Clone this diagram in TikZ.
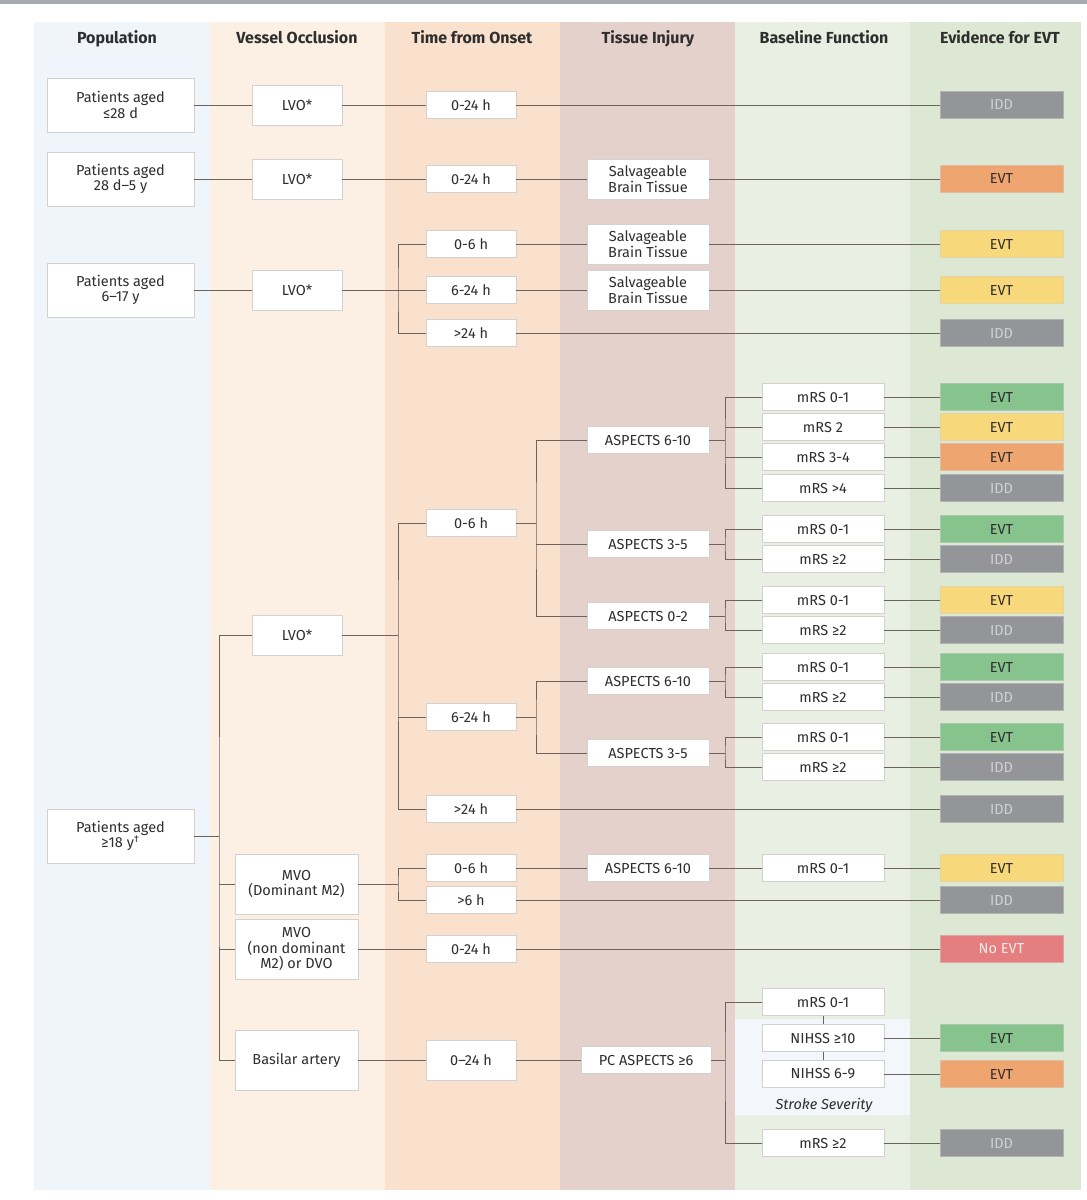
\documentclass[tikz,border=0pt]{standalone}
\usepackage{fontspec}
\setmainfont{Fira Sans}
\definecolor{topbar}{HTML}{A9AAB0}
\definecolor{cpop}{HTML}{EFF5FB}
\definecolor{cvo}{HTML}{FBF0E3}
\definecolor{ctime}{HTML}{F9E1CD}
\definecolor{ctis}{HTML}{E5D1CB}
\definecolor{cbase}{HTML}{E9F0E3}
\definecolor{cevi}{HTML}{DDE8D4}
\definecolor{csev}{HTML}{F3F7FB}
\definecolor{boxc}{HTML}{D3D0CD}
\definecolor{linec}{HTML}{6E625C}
\definecolor{txt}{HTML}{2E2E2E}
\definecolor{egreen}{HTML}{86C38D}
\definecolor{eyellow}{HTML}{F7D87A}
\definecolor{eorange}{HTML}{EFA570}
\definecolor{egray}{HTML}{939598}
\definecolor{ered}{HTML}{E57E7E}
\begin{document}
\begin{tikzpicture}[x=1pt,y=-1pt,
  bx/.style={draw=boxc, fill=white, line width=0.8pt, inner sep=0pt, align=center,
    font=\fontsize{14.5}{15.5}\selectfont, text=txt},
  popb/.style={bx, minimum width=147pt, minimum height=54pt},
  lvob/.style={bx, minimum width=90pt, minimum height=40pt},
  mvob/.style={bx, minimum width=123pt, minimum height=60pt},
  timeb/.style={bx, minimum width=90pt, minimum height=27pt},
  tisb/.style={bx, minimum width=122pt, minimum height=27pt},
  salb/.style={bx, minimum width=122pt, minimum height=40pt},
  basb/.style={bx, minimum width=122pt, minimum height=27pt},
  ev/.style={inner sep=0pt, minimum width=123pt, minimum height=27pt, draw=#1!85!black!60, line width=0.5pt, fill=#1,
    font=\fontsize{14.5}{15.5}\selectfont},
  evt/.style={ev=#1, text=txt},
  idd/.style={ev=egray, text=black!18},
  noevt/.style={ev=ered, text=red!8},
  hd/.style={font=\fontsize{16}{18}\selectfont\bfseries, text=txt, anchor=base},
  ln/.style={draw=linec, line width=1pt}]
\useasboundingbox (0,0) rectangle (1087,1200);
% backgrounds
\fill[topbar] (0,0) rectangle (1087,4);
\fill[cpop] (34,22) rectangle (210,1190);
\fill[cvo] (210,22) rectangle (385,1190);
\fill[ctime] (385,22) rectangle (560,1190);
\fill[ctis] (560,22) rectangle (735,1190);
\fill[cbase] (735,22) rectangle (910,1190);
\fill[cevi] (910,22) rectangle (1081,1190);
\fill[csev] (735,1019) rectangle (910,1115);
% headers
\node[hd] (h1) at (117,43) {Population};
\node[hd] (h2) at (297,43) {Vessel Occlusion};
\node[hd] (h3) at (472,43) {Time from Onset};
\node[hd] (h4) at (648,43) {Tissue Injury};
\node[hd] (h5) at (824,43) {Baseline Function};
\node[hd] (h6) at (1000,43) {Evidence for EVT};
% population
\node[popb] (p1) at (120.5,105) {Patients aged\\≤28 d};
\node[popb] (p2) at (120.5,179) {Patients aged\\28 d–5 y};
\node[popb] (p3) at (120.5,290) {Patients aged\\6–17 y};
\node[popb] (p4) at (120.5,836) {Patients aged\\≥18 y\textsuperscript{†}};
% vessel
\node[lvob] (l1) at (297,105) {LVO*};
\node[lvob] (l2) at (297,179) {LVO*};
\node[lvob] (l3) at (297,290) {LVO*};
\node[lvob] (l4) at (297,635) {LVO*};
\node[mvob] (m1) at (296.5,884) {MVO\\(Dominant M2)};
\node[mvob] (m2) at (296.5,949) {MVO\\(non dominant\\M2) or DVO};
\node[mvob] (ba) at (296.5,1060) {Basilar artery};
% time
\node[timeb] (t1) at (471,105) {0-24 h};
\node[timeb] (t2) at (471,179) {0-24 h};
\node[timeb] (t3) at (471,244) {0-6 h};
\node[timeb] (t4) at (471,290) {6-24 h};
\node[timeb] (t5) at (471,333) {>24 h};
\node[timeb] (t6) at (471,523) {0-6 h};
\node[timeb] (t7) at (471,717) {6-24 h};
\node[timeb] (t8) at (471,809) {>24 h};
\node[timeb] (t9) at (471,868) {0-6 h};
\node[timeb] (t10) at (471,900) {>6 h};
\node[timeb] (t11) at (471,949) {0-24 h};
\node[timeb, minimum height=40pt] (t12) at (471,1060) {0–24 h};
% tissue
\node[salb] (s1) at (648,179) {Salvageable\\Brain Tissue};
\node[salb] (s2) at (648,244) {Salvageable\\Brain Tissue};
\node[salb] (s3) at (648,290) {Salvageable\\Brain Tissue};
\node[tisb] (a1) at (648,440) {ASPECTS 6-10};
\node[tisb] (a2) at (648,544) {ASPECTS 3-5};
\node[tisb] (a3) at (648,616) {ASPECTS 0-2};
\node[tisb] (a4) at (648,681) {ASPECTS 6-10};
\node[tisb] (a5) at (648,753) {ASPECTS 3-5};
\node[tisb] (a6) at (648,868) {ASPECTS 6-10};
\node[tisb, minimum width=130pt] (pc) at (646,1060) {PC ASPECTS ≥6};
% baseline
\node[basb] (r11) at (823,397) {mRS 0-1};
\node[basb] (r12) at (823,427) {mRS 2};
\node[basb] (r13) at (823,457) {mRS 3-4};
\node[basb] (r14) at (823,488) {mRS >4};
\node[basb] (r21) at (823,529) {mRS 0-1};
\node[basb] (r22) at (823,559) {mRS ≥2};
\node[basb] (r31) at (823,600) {mRS 0-1};
\node[basb] (r32) at (823,630) {mRS ≥2};
\node[basb] (r41) at (823,667) {mRS 0-1};
\node[basb] (r42) at (823,697) {mRS ≥2};
\node[basb] (r51) at (823,737) {mRS 0-1};
\node[basb] (r52) at (823,767) {mRS ≥2};
\node[basb] (r61) at (823,868) {mRS 0-1};
\node[basb] (b1) at (823,1002) {mRS 0-1};
\node[basb] (n1) at (823,1038) {NIHSS ≥10};
\node[basb] (n2) at (823,1074) {NIHSS 6-9};
\node[basb] (b2) at (823,1143) {mRS ≥2};
\node[font=\fontsize{14.5}{15.5}\selectfont\itshape, text=txt] (sev) at (824,1105) {Stroke Severity};
% evidence
\node[idd] (e1) at (1001.5,105) {IDD};
\node[evt=eorange] (e2) at (1001.5,179) {EVT};
\node[evt=eyellow] (e3) at (1001.5,244) {EVT};
\node[evt=eyellow] (e4) at (1001.5,290) {EVT};
\node[idd] (e5) at (1001.5,333) {IDD};
\node[evt=egreen] (e11) at (1001.5,397) {EVT};
\node[evt=eyellow] (e12) at (1001.5,427) {EVT};
\node[evt=eorange] (e13) at (1001.5,457) {EVT};
\node[idd] (e14) at (1001.5,488) {IDD};
\node[evt=egreen] (e21) at (1001.5,529) {EVT};
\node[idd] (e22) at (1001.5,559) {IDD};
\node[evt=eyellow] (e31) at (1001.5,600) {EVT};
\node[idd] (e32) at (1001.5,630) {IDD};
\node[evt=egreen] (e41) at (1001.5,667) {EVT};
\node[idd] (e42) at (1001.5,697) {IDD};
\node[evt=egreen] (e51) at (1001.5,737) {EVT};
\node[idd] (e52) at (1001.5,767) {IDD};
\node[idd] (e8) at (1001.5,809) {IDD};
\node[evt=eyellow] (e61) at (1001.5,868) {EVT};
\node[idd] (e10) at (1001.5,900) {IDD};
\node[noevt] (ex) at (1001.5,949) {No EVT};
\node[evt=egreen] (en1) at (1001.5,1038) {EVT};
\node[evt=eorange] (en2) at (1001.5,1074) {EVT};
\node[idd] (eb2) at (1001.5,1143) {IDD};
% junctions
\coordinate (j3) at (398,290);
\coordinate (j4) at (219,836);
\coordinate (j5) at (398,635);
\coordinate (j6) at (536,523);
\coordinate (j7) at (725,440);
\coordinate (j8) at (725,544);
\coordinate (j9) at (725,616);
\coordinate (j10) at (536,717);
\coordinate (j11) at (725,681);
\coordinate (j12) at (725,753);
\coordinate (j13) at (398,884);
\coordinate (j14) at (725,1060);
% connectors
\draw[ln] (p1) -- (l1); \draw[ln] (l1) -- (t1); \draw[ln] (t1) -- (e1);
\draw[ln] (p2) -- (l2); \draw[ln] (l2) -- (t2); \draw[ln] (t2) -- (s1); \draw[ln] (s1) -- (e2);
\draw[ln] (p3) -- (l3); \draw[ln] (l3) -- (t4);
\draw[ln] (t3.west) -| (j3) |- (t5.west);
\draw[ln] (t3) -- (s2); \draw[ln] (s2) -- (e3);
\draw[ln] (t4) -- (s3); \draw[ln] (s3) -- (e4);
\draw[ln] (t5) -- (e5);
\draw[ln] (p4) -- (j4);
\draw[ln] (l4.west) -| (j4) |- (ba.west);
\draw[ln] (j4 |- m1) -- (m1);
\draw[ln] (j4 |- m2) -- (m2);
\draw[ln] (l4) -- (j5);
\draw[ln] (t6.west) -| (j5) |- (t8.west);
\draw[ln] (j5 |- t7) -- (t7);
\draw[ln] (t6) -- (j6);
\draw[ln] (a1.west) -| (j6) |- (a3.west);
\draw[ln] (j6 |- a2) -- (a2);
\draw[ln] (a1) -- (j7);
\draw[ln] (r11.west) -| (j7) |- (r14.west);
\draw[ln] (j7 |- r12) -- (r12);
\draw[ln] (j7 |- r13) -- (r13);
\draw[ln] (a2) -- (j8);
\draw[ln] (r21.west) -| (j8) |- (r22.west);
\draw[ln] (a3) -- (j9);
\draw[ln] (r31.west) -| (j9) |- (r32.west);
\draw[ln] (t7) -- (j10);
\draw[ln] (a4.west) -| (j10) |- (a5.west);
\draw[ln] (a4) -- (j11);
\draw[ln] (r41.west) -| (j11) |- (r42.west);
\draw[ln] (a5) -- (j12);
\draw[ln] (r51.west) -| (j12) |- (r52.west);
\draw[ln] (r11) -- (e11); \draw[ln] (r12) -- (e12); \draw[ln] (r13) -- (e13); \draw[ln] (r14) -- (e14);
\draw[ln] (r21) -- (e21); \draw[ln] (r22) -- (e22);
\draw[ln] (r31) -- (e31); \draw[ln] (r32) -- (e32);
\draw[ln] (r41) -- (e41); \draw[ln] (r42) -- (e42);
\draw[ln] (r51) -- (e51); \draw[ln] (r52) -- (e52);
\draw[ln] (t8) -- (e8);
\draw[ln] (m1) -- (j13);
\draw[ln] (t9.west) -| (j13) |- (t10.west);
\draw[ln] (t9) -- (a6); \draw[ln] (a6) -- (r61); \draw[ln] (r61) -- (e61);
\draw[ln] (t10) -- (e10);
\draw[ln] (m2) -- (t11); \draw[ln] (t11) -- (ex);
\draw[ln] (ba) -- (t12); \draw[ln] (t12) -- (pc);
\draw[ln] (pc) -- (j14);
\draw[ln] (b1.west) -| (j14) |- (b2.west);
\draw[ln] (b1) -- (n1); \draw[ln] (n1) -- (n2);
\draw[ln] (n1) -- (en1); \draw[ln] (n2) -- (en2);
\draw[ln] (b2) -- (eb2);
\end{tikzpicture}
\end{document}
